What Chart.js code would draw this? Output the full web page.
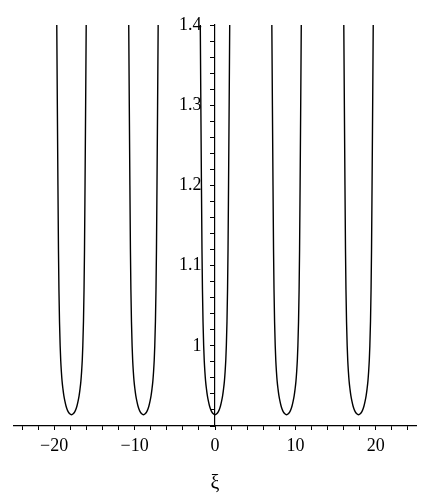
<!DOCTYPE html>
<html>
<head>
<meta charset="utf-8">
<script src="https://cdn.jsdelivr.net/npm/chart.js@4.4.0/dist/chart.umd.min.js"></script>
<style>
  html, body { margin: 0; padding: 0; background: #fff; }
</style>
</head>
<body>
<canvas id="chart" width="431" height="500"></canvas>
<script>
// well centres
const wellCenters = [-17.85, -8.9, 0, 8.9, 17.85];

// right half of one well: offset from its centre and height
const halfDx = [0, 0.25, 0.42, 0.55, 0.68, 0.82, 0.95, 1.06, 1.17, 1.26, 1.34, 1.41, 1.49, 1.56, 1.62, 1.685, 1.76, 1.83];
const halfY = [0.914, 0.9155, 0.918, 0.9208, 0.925, 0.931, 0.938, 0.946, 0.956, 0.968, 0.982, 1.0, 1.03, 1.07, 1.12, 1.2, 1.3, 1.4];

// tick labels
const xLabels = [-20, -10, 0, 10, 20];
const yLabels = [1, 1.1, 1.2, 1.3, 1.4];

const serif = '"Liberation Serif", "DejaVu Serif", serif';

// the wells are symmetric: left half is the mirror of the right half
const shapeDx = halfDx.slice(1).reverse().map(d => -d).concat(halfDx);
const shapeY = halfY.slice(1).reverse().concat(halfY);

const datasets = wellCenters.map(c => ({
  data: shapeDx.map((dx, i) => ({ x: c + dx, y: shapeY[i] })),
  borderColor: '#000',
  borderWidth: 1.4,
  pointRadius: 0,
  fill: false,
  cubicInterpolationMode: 'monotone'
}));

new Chart(document.getElementById('chart'), {
  type: 'scatter',
  data: { datasets },
  options: {
    responsive: false,
    animation: false,
    showLine: true,
    layout: { padding: { left: 14, right: 15, top: 25, bottom: 0 } },
    plugins: { legend: { display: false }, tooltip: { enabled: false } },
    scales: {
      x: {
        type: 'linear',
        min: -25,
        max: 25,
        afterFit: s => { s.height = 74; },
        afterBuildTicks: s => {
          const t = [];
          for (let v = -24; v <= 24; v += 2) t.push({ value: v });
          s.ticks = t;
        },
        grid: { drawOnChartArea: false, color: '#000', tickLength: 4, tickWidth: 1 },
        border: { color: '#000', width: 1.2 },
        ticks: {
          color: '#000',
          padding: 5,
          maxRotation: 0,
          autoSkip: false,
          font: { family: serif, size: 18 },
          callback: v => xLabels.includes(v) ? String(v).replace('-', '\u2212') : ''
        },
        title: {
          display: true,
          text: 'ξ',
          color: '#000',
          font: { family: serif, size: 20 },
          padding: { top: 6 }
        }
      },
      y: {
        type: 'linear',
        position: { x: 0 },
        min: 0.9,
        max: 1.4,
        afterBuildTicks: s => {
          const t = [];
          for (let k = 90; k <= 140; k += 2) t.push({ value: k / 100 });
          s.ticks = t;
        },
        grid: { drawOnChartArea: false, color: '#000', tickLength: 4, tickWidth: 1 },
        border: { color: '#000', width: 1.2 },
        ticks: {
          color: '#000',
          padding: 2,
          autoSkip: false,
          font: { family: serif, size: 18 },
          // trailing spaces push the right-aligned labels clear of the centred axis
          callback: v => {
            const hit = yLabels.find(l => Math.abs(l - v) < 1e-6);
            return hit !== undefined ? String(hit) + '   ' : '';
          }
        }
      }
    }
  }
});
</script>
</body>
</html>
